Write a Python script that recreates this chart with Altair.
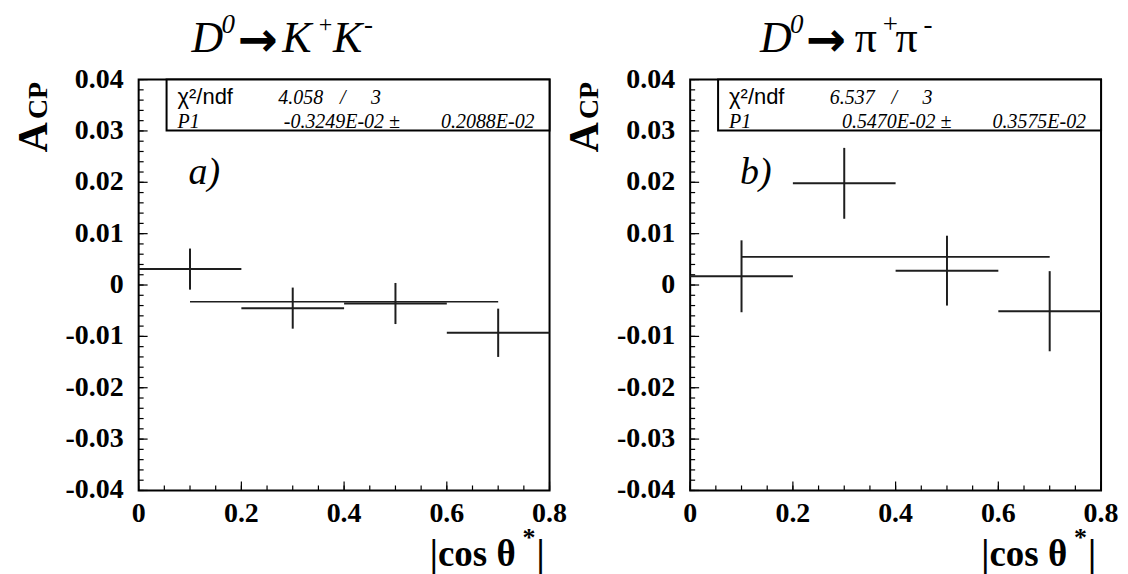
import altair as alt
import pandas as pd

# ---------------- data ----------------
bin_center = [0.1, 0.3, 0.5, 0.7]
bin_half = [0.1, 0.1, 0.1, 0.1]

kk_acp = [0.0031, -0.0045, -0.0036, -0.0093]
kk_err = [0.0040, 0.0040, 0.0040, 0.0047]
pipi_acp = [0.0017, 0.0198, 0.0028, -0.0051]
pipi_err = [0.0070, 0.0069, 0.0068, 0.0078]

fit_range = [0.1, 0.7]
kk_fit = -0.3249e-02
pipi_fit = 0.5470e-02

kk_stats = ["4.058", "/", "3", "-0.3249E-02 \u00b1", "0.2088E-02"]
pipi_stats = ["6.537", "/", "3", "0.5470E-02 \u00b1", "0.3575E-02"]

y_major = [-0.04, -0.03, -0.02, -0.01, 0.0, 0.01, 0.02, 0.03, 0.04]
y_labels = ["-0.04", "-0.03", "-0.02", "-0.01", "0", "0.01", "0.02", "0.03", "0.04"]
y_minor = [round(-0.04 + 0.002 * i, 3) for i in range(41)]
x_major = [0.0, 0.2, 0.4, 0.6, 0.8]
x_labels = ["0", "0.2", "0.4", "0.6", "0.8"]
x_minor = [round(0.05 * i, 2) for i in range(17)]

W, H = 412, 412
SERIF = "Liberation Serif"
SANS = "Liberation Sans"
LINE = "#1e1e1e"

xs = alt.Scale(domain=[0, 0.8], nice=False, zero=False)
ys = alt.Scale(domain=[-0.04, 0.04], nice=False, zero=False)


def txt(s, x, y, size, font=SERIF, style="normal", weight="normal",
        align="left", baseline="alphabetic", angle=0):
    return alt.Chart(pd.DataFrame({"t": [s]})).mark_text(
        align=align, baseline=baseline, font=font, fontSize=size,
        fontStyle=style, fontWeight=weight, angle=angle, color="black"
    ).encode(text="t:N", x=alt.value(x), y=alt.value(y))


def panel(acp, err, fit, stats, letter, title_parts, anchor=False):
    df = pd.DataFrame({
        "xc": bin_center,
        "xlo": [c - h for c, h in zip(bin_center, bin_half)],
        "xhi": [c + h for c, h in zip(bin_center, bin_half)],
        "y": acp,
        "ylo": [a - e for a, e in zip(acp, err)],
        "yhi": [a + e for a, e in zip(acp, err)],
    })
    hbar = alt.Chart(df).mark_rule(color=LINE, strokeWidth=2).encode(
        x=alt.X("xlo:Q", scale=xs, axis=None),
        x2="xhi:Q",
        y=alt.Y("y:Q", scale=ys, axis=None),
    )
    vbar = alt.Chart(df).mark_rule(color=LINE, strokeWidth=2).encode(
        x=alt.X("xc:Q", scale=xs, axis=None),
        y=alt.Y("ylo:Q", scale=ys, axis=None),
        y2="yhi:Q",
    )
    fdf = pd.DataFrame({"x0": [fit_range[0]], "x1": [fit_range[1]], "f": [fit]})
    fitl = alt.Chart(fdf).mark_rule(color=LINE, strokeWidth=1.6).encode(
        x=alt.X("x0:Q", scale=xs, axis=None), x2="x1:Q",
        y=alt.Y("f:Q", scale=ys, axis=None),
    )
    ymaj = alt.Chart(pd.DataFrame({"v": y_major})).mark_rule(color="black", strokeWidth=1.2).encode(
        y=alt.Y("v:Q", scale=ys, axis=None), x=alt.value(0), x2=alt.value(9))
    ymin = alt.Chart(pd.DataFrame({"v": y_minor})).mark_rule(color="black", strokeWidth=1.2).encode(
        y=alt.Y("v:Q", scale=ys, axis=None), x=alt.value(0), x2=alt.value(5))
    xmaj = alt.Chart(pd.DataFrame({"v": x_major})).mark_rule(color="black", strokeWidth=1.2).encode(
        x=alt.X("v:Q", scale=xs, axis=None), y=alt.value(H), y2=alt.value(H - 9))
    xmin = alt.Chart(pd.DataFrame({"v": x_minor})).mark_rule(color="black", strokeWidth=1.2).encode(
        x=alt.X("v:Q", scale=xs, axis=None), y=alt.value(H), y2=alt.value(H - 5))

    ylab = alt.Chart(pd.DataFrame({"v": y_major, "s": y_labels})).mark_text(
        align="right", baseline="middle", font=SERIF, fontSize=28,
        fontWeight="bold", color="black").encode(
        y=alt.Y("v:Q", scale=ys, axis=None), x=alt.value(-15), text="s:N")
    xlab = alt.Chart(pd.DataFrame({"v": x_major, "s": x_labels})).mark_text(
        align="center", baseline="top", font=SERIF, fontSize=28,
        fontWeight="bold", color="black").encode(
        x=alt.X("v:Q", scale=xs, axis=None), y=alt.value(H + 10), text="s:N")

    box = alt.Chart(pd.DataFrame({"t": [0]})).mark_rect(
        fill="white", stroke="black", strokeWidth=2).encode(
        x=alt.value(28), x2=alt.value(W), y=alt.value(0), y2=alt.value(51))

    layers = [hbar, vbar, fitl, ymaj, ymin, xmaj, xmin, ylab, xlab, box,
              txt("\u03c7\u00b2/ndf", 39, 24, 22, font=SANS),
              txt(stats[0], 140, 24, 20, style="italic"),
              txt(stats[1], 202, 24, 20, style="italic"),
              txt(stats[2], 233, 24, 20, style="italic"),
              txt("P1", 39, 49, 20, style="italic"),
              txt(stats[3], 262, 49, 20, style="italic", align="right"),
              txt(stats[4], 397, 49, 20, style="italic", align="right"),
              txt(letter, 50, 105, 38, style="italic"),
              # y-axis title A_CP
              txt("A", -92, 58, 42, weight="bold", align="center", angle=270),
              txt("CP", -92, 21, 28, weight="bold", align="center", angle=270),
              # x-axis title |cos theta*|
              txt("|cos \u03b8", 292, 488, 37, weight="bold"),
              txt("*", 385, 468, 26, weight="bold"),
              txt("|", 399, 488, 37, weight="bold"),
              ]
    for s, x, y, size, style, font, weight in title_parts:
        layers.append(txt(s, x, y, size, style=style, font=font, weight=weight))
    if anchor:
        layers.append(alt.Chart(pd.DataFrame({"t": [0]})).mark_rule(
            color="white", strokeWidth=1).encode(
            x=alt.value(-129.5), x2=alt.value(-129.5), y=alt.value(-69.5), y2=alt.value(-68)))
    return alt.layer(*layers).properties(width=W, height=H)


ARROW_FONT = "DejaVu Sans"
kk_title = [
    ("D", 53, -28, 44, "italic", SERIF, "normal"),
    ("0", 83, -47, 27, "italic", SERIF, "normal"),
    ("\u2192", 99, -24, 48, "normal", ARROW_FONT, "bold"),
    ("K", 144, -28, 44, "italic", SERIF, "normal"),
    ("+", 179, -48, 24, "italic", SERIF, "normal"),
    ("K", 195, -28, 44, "italic", SERIF, "normal"),
    ("-", 226, -47, 27, "italic", SERIF, "normal"),
]
pipi_title = [
    ("D", 70, -28, 44, "italic", SERIF, "normal"),
    ("0", 100, -47, 27, "italic", SERIF, "normal"),
    ("\u2192", 116, -24, 48, "normal", ARROW_FONT, "bold"),
    ("\u03c0", 165, -28, 44, "normal", SERIF, "normal"),
    ("+", 193, -47, 27, "normal", SERIF, "normal"),
    ("\u03c0", 206, -28, 44, "normal", SERIF, "normal"),
    ("-", 234, -47, 27, "normal", SERIF, "normal"),
]

left = panel(kk_acp, kk_err, kk_fit, kk_stats, "a)", kk_title, anchor=True)
right = panel(pipi_acp, pipi_err, pipi_fit, pipi_stats, "b)", pipi_title)

chart = alt.hconcat(left, right, spacing=141, bounds="flush").properties(
    padding=0
).configure_view(
    stroke="black", strokeWidth=2
)

chart.save("out.html", embed_options={"renderer": "svg", "actions": False})
